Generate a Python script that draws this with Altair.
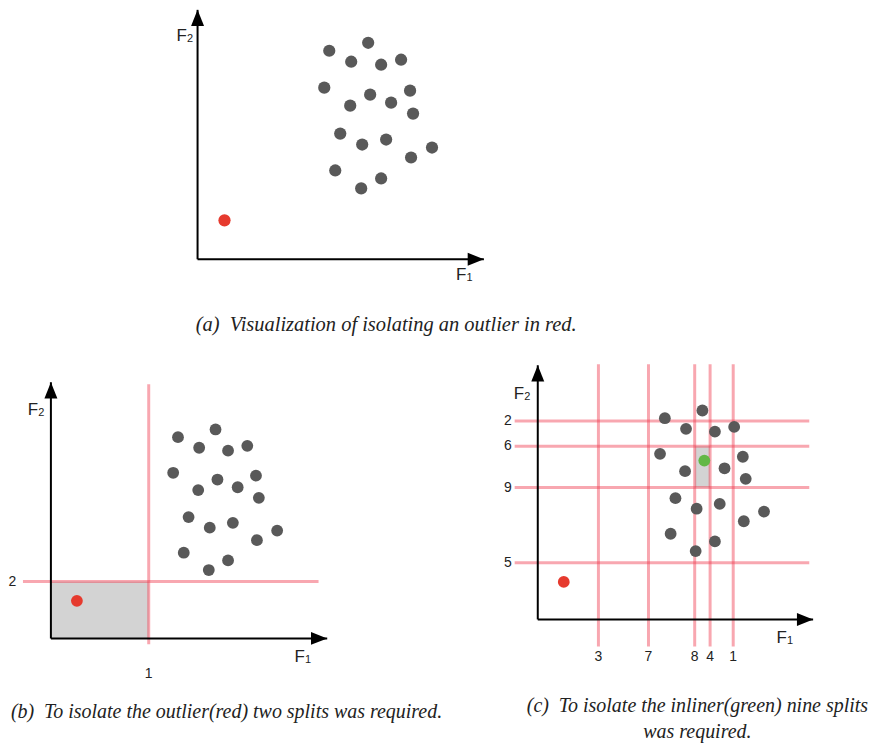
import altair as alt
import pandas as pd

# ---------------- data (feature units) ----------------
GRAY_F1 = [132, 171, 154, 184, 204, 127, 173, 153, 194, 213, 216, 143, 165, 189, 235, 214, 138, 184, 164]
GRAY_F2 = [209, 217, 198, 195, 200, 172, 165, 154, 157, 169, 146, 126, 115, 120, 112, 102, 89, 81, 71]
OUTLIER_F1 = [27]
OUTLIER_F2 = [39]
INLIER_INDEX = 6  # the point isolated in panel (c)

B_SPLIT_F1 = [101.6]
B_SPLIT_F1_LABELS = ["1"]
B_SPLIT_F2 = [59]
B_SPLIT_F2_LABELS = ["2"]

C_SPLIT_F1 = [63, 115, 163, 179, 203]
C_SPLIT_F1_LABELS = ["3", "7", "8", "4", "1"]
C_SPLIT_F2 = [206, 180, 137, 59]
C_SPLIT_F2_LABELS = ["2", "6", "9", "5"]

CAPTION_A = "(a)\u2002Visualization of isolating an outlier in red."
CAPTION_B = "(b)\u2002To isolate the outlier(red) two splits was required."
CAPTION_C = ["(c)\u2002To isolate the inliner(green) nine splits", "was required."]

# ---------------- styles ----------------
GRAY = "#595959"
RED = "#e63a2e"
GREEN = "#62b846"
SPLIT = "#f03c50"
BOX = "#d3d3d3"
INK = "#222222"
SANS = "Liberation Sans"
SERIF = "Liberation Serif"


def scales(ox, oy, s, w, h):
    xs = alt.Scale(domain=[-ox / s, (w - ox) / s], nice=False, zero=False)
    ys = alt.Scale(domain=[-(h - oy) / s, oy / s], nice=False, zero=False)
    return xs, ys


def panel(w, h, ox, oy, s, xlen, ylen, flab, box=None, vsplits=None, hsplits=None,
          vlab_f2=-38, hlab_f1=-30, vext=(0, 0), hext=(0, 0), inlier=False,
          psize=150, caption=None):
    xs, ys = scales(ox, oy, s, w, h)
    X = lambda f: alt.X(f, type="quantitative", scale=xs, axis=None)
    Y = lambda f: alt.Y(f, type="quantitative", scale=ys, axis=None)
    layers = []

    if box is not None:
        bdf = pd.DataFrame([box], columns=["x0", "x1", "y0", "y1"])
        layers.append(alt.Chart(bdf).mark_rect(color=BOX).encode(
            x=X("x0"), x2="x1", y=Y("y0"), y2="y1"))

    if vsplits is not None:
        vals, labs = vsplits
        vdf = pd.DataFrame({"f1": vals, "lab": labs, "lo": vext[0], "hi": vext[1], "ly": vlab_f2})
        layers.append(alt.Chart(vdf).mark_rule(color=SPLIT, opacity=0.45, strokeWidth=3).encode(
            x=X("f1"), y=Y("lo"), y2="hi"))
        layers.append(alt.Chart(vdf).mark_text(font=SANS, fontSize=14, color=INK,
                                               align="center", baseline="middle").encode(
            x=X("f1"), y=Y("ly"), text="lab:N"))

    if hsplits is not None:
        vals, labs = hsplits
        hdf = pd.DataFrame({"f2": vals, "lab": labs, "lo": hext[0], "hi": hext[1], "lx": hlab_f1})
        layers.append(alt.Chart(hdf).mark_rule(color=SPLIT, opacity=0.45, strokeWidth=3).encode(
            y=Y("f2"), x=X("lo"), x2="hi"))
        layers.append(alt.Chart(hdf).mark_text(font=SANS, fontSize=14, color=INK,
                                               align="right", baseline="middle").encode(
            x=X("lx"), y=Y("f2"), text="lab:N"))

    # axes
    adf = pd.DataFrame({"z": [0], "xl": [xlen], "yl": [ylen]})
    layers.append(alt.Chart(adf).mark_rule(color="black", strokeWidth=2).encode(
        x=X("z"), x2="xl", y=Y("z")))
    layers.append(alt.Chart(adf).mark_rule(color="black", strokeWidth=2).encode(
        x=X("z"), y=Y("z"), y2="yl"))
    layers.append(alt.Chart(adf).mark_point(shape="M0,0L-2.5,-1L-2.5,1Z", filled=True, color="black",
                                            opacity=1, size=169, strokeWidth=0).encode(
        x=X("xl"), y=Y("z")))
    layers.append(alt.Chart(adf).mark_point(shape="M0,0L-1,2.5L1,2.5Z", filled=True, color="black",
                                            opacity=1, size=169, strokeWidth=0).encode(
        x=X("z"), y=Y("yl")))

    # axis names: F2 on the vertical axis, F1 on the horizontal axis
    ldf = pd.DataFrame({"name": ["F", "F"], "sub": ["2", "1"],
                        "f1": [flab[0], flab[2]], "f2": [flab[1], flab[3]]})
    layers.append(alt.Chart(ldf).mark_text(font=SANS, fontSize=17, color=INK,
                                           align="left", baseline="middle").encode(
        x=X("f1"), y=Y("f2"), text="name:N"))
    layers.append(alt.Chart(ldf).mark_text(font=SANS, fontSize=11, color=INK, dx=10.5, dy=3,
                                           align="left", baseline="middle").encode(
        x=X("f1"), y=Y("f2"), text="sub:N"))

    # points
    gdf = pd.DataFrame({"f1": GRAY_F1, "f2": GRAY_F2})
    gdf["kind"] = "gray"
    if inlier:
        gdf.loc[INLIER_INDEX, "kind"] = "inlier"
    rdf = pd.DataFrame({"f1": OUTLIER_F1, "f2": OUTLIER_F2, "kind": ["outlier"]})
    pdf = pd.concat([gdf, rdf], ignore_index=True)
    layers.append(alt.Chart(pdf).mark_circle(opacity=1, size=psize).encode(
        x=X("f1"), y=Y("f2"),
        color=alt.Color("kind:N", legend=None,
                        scale=alt.Scale(domain=["gray", "outlier", "inlier"],
                                        range=[GRAY, RED, GREEN]))))

    # caption
    if caption is not None:
        lines, cx, cy, fs = caption
        cdf = pd.DataFrame({"t": [lines]})
        layers.append(alt.Chart(cdf).mark_text(font=SERIF, fontStyle="italic", fontSize=fs,
                                               color=INK, align="center", baseline="middle",
                                               lineHeight=26).encode(
            x=alt.value(cx), y=alt.value(cy), text="t"))

    return alt.layer(*layers).properties(width=w, height=h)


S = 0.965

pa = panel(861, 337, 190, 249, 1.0, 287, 250, (-21, 224, 259, -16),
           caption=(CAPTION_A, 379, 315, 20.5))

pb = panel(432, 390, 43, 292, S, 287, 266, (-24, 237, 253, -19),
           box=(0, B_SPLIT_F1[0], 0, B_SPLIT_F2[0]),
           vsplits=(B_SPLIT_F1, B_SPLIT_F1_LABELS), hsplits=(B_SPLIT_F2, B_SPLIT_F2_LABELS),
           vlab_f2=-37, hlab_f1=-36, vext=(-6, 264), hext=(-29, 278),
           psize=140, caption=(CAPTION_B, 219, 366, 20))

pc = panel(429, 390, 99, 273, S, 286, 264, (-25, 234, 248, -19),
           box=(C_SPLIT_F1[2], C_SPLIT_F1[3], C_SPLIT_F2[2], C_SPLIT_F2[1]),
           vsplits=(C_SPLIT_F1, C_SPLIT_F1_LABELS), hsplits=(C_SPLIT_F2, C_SPLIT_F2_LABELS),
           vlab_f2=-39, hlab_f1=-27, vext=(-28, 265), hext=(-24, 282), inlier=True,
           psize=140, caption=(CAPTION_C, 259, 360, 20))

bottom = alt.hconcat(pb, pc, spacing=0, bounds="flush")
chart = alt.vconcat(pa, bottom, spacing=0, bounds="flush").properties(
    padding=0
).configure_view(stroke=None).resolve_scale(color="independent")

chart.save("out.html", embed_options={"renderer": "svg", "actions": False})
